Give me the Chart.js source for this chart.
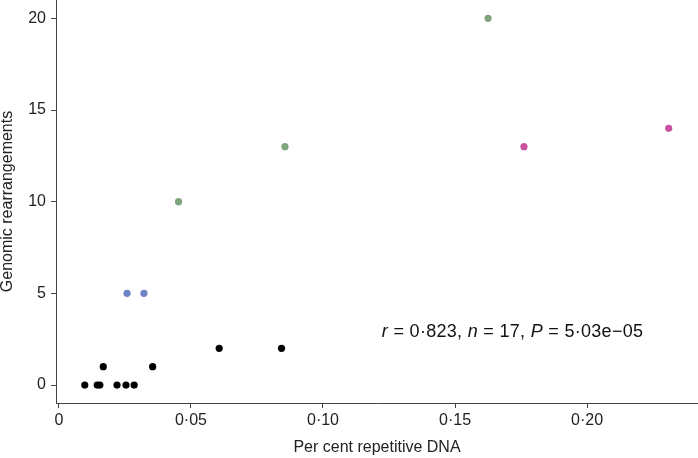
<!DOCTYPE html>
<html>
<head>
<meta charset="utf-8">
<script src="https://cdn.jsdelivr.net/npm/chart.js@4/dist/chart.umd.min.js"></script>
<style>
  html, body { margin: 0; padding: 0; background: #fff; }
  #wrap { width: 698px; height: 458px; }
</style>
</head>
<body>
<div id="wrap"><canvas id="myChart"></canvas></div>
<script>
// values
const blackX = [0.0098, 0.0145, 0.0155, 0.0168, 0.0220, 0.0254, 0.0285, 0.0355, 0.0607, 0.0843];
const blackY = [0, 0, 0, 1, 0, 0, 0, 1, 2, 2];
const blueX = [0.0258, 0.0322];
const blueY = [5, 5];
const greenX = [0.0453, 0.0856, 0.1625];
const greenY = [10, 13, 20];
const pinkX = [0.1761, 0.2309];
const pinkY = [13, 14];

const xTicks = [0, 0.05, 0.10, 0.15, 0.20];
const yTicks = [0, 5, 10, 15, 20];
const statsText = [
  { t: 'r', italic: true }, { t: ' = 0·823, ' },
  { t: 'n', italic: true }, { t: ' = 17, ' },
  { t: 'P', italic: true }, { t: ' = 5·03e\u221205' }
];
const statsAt = { x: 0.1718, y: 2.9 };

const FONT = '"Liberation Sans", Arial, Helvetica, sans-serif';
const AXIS = '#444';

const toPoints = (xs, ys) => xs.map((x, i) => ({ x: x, y: ys[i] }));

const makeSet = (xs, ys, color) => ({
  data: toPoints(xs, ys),
  backgroundColor: color,
  borderColor: color,
  borderWidth: 0,
  pointRadius: 3.6,
  pointHoverRadius: 3.6
});

const statsPlugin = {
  id: 'stats',
  afterDatasetsDraw(chart) {
    const ctx = chart.ctx;
    const px = chart.scales.x.getPixelForValue(statsAt.x);
    const py = chart.scales.y.getPixelForValue(statsAt.y);
    ctx.save();
    ctx.fillStyle = '#111';
    ctx.textBaseline = 'middle';
    ctx.letterSpacing = '0.3px';
    const fontOf = s => (s.italic ? 'italic ' : '') + '18px ' + FONT;
    let total = 0;
    statsText.forEach(s => {
      ctx.font = fontOf(s);
      total += ctx.measureText(s.t).width;
    });
    let cx = px - total / 2;
    statsText.forEach(s => {
      ctx.font = fontOf(s);
      ctx.fillText(s.t, cx, py);
      cx += ctx.measureText(s.t).width;
    });
    ctx.restore();
  }
};

new Chart(document.getElementById('myChart'), {
  type: 'scatter',
  data: {
    datasets: [
      makeSet(blackX, blackY, '#000000'),
      makeSet(blueX, blueY, '#6e82c6'),
      makeSet(greenX, greenY, '#7ea57e'),
      makeSet(pinkX, pinkY, '#c8529e')
    ]
  },
  options: {
    responsive: true,
    maintainAspectRatio: false,
    animation: false,
    layout: { padding: 0, autoPadding: false },
    plugins: {
      legend: { display: false },
      tooltip: { enabled: false }
    },
    scales: {
      x: {
        type: 'linear',
        min: -0.0011,
        max: 0.242,
        afterBuildTicks: s => { s.ticks = xTicks.map(v => ({ value: v })); },
        afterFit: s => { s.height = 55; s.paddingLeft = 0; s.paddingRight = 0; },
        border: { display: true, color: AXIS, width: 1 },
        grid: { display: true, drawOnChartArea: false, drawTicks: true, tickLength: 5, tickColor: AXIS },
        ticks: {
          color: '#222',
          padding: 3,
          maxRotation: 0,
          font: { family: FONT, size: 16 },
          callback: v => v === 0 ? '0' : v.toFixed(2).replace('.', '·')
        },
        title: {
          display: true,
          text: 'Per cent repetitive DNA',
          color: '#222',
          font: { family: FONT, size: 16 },
          padding: { top: 0, bottom: 1 }
        }
      },
      y: {
        type: 'linear',
        min: -0.98,
        max: 21,
        afterBuildTicks: s => { s.ticks = yTicks.map(v => ({ value: v })); },
        afterFit: s => { s.width = 56; s.paddingTop = 0; s.paddingBottom = 0; },
        border: { display: true, color: AXIS, width: 1 },
        grid: { display: true, drawOnChartArea: false, drawTicks: true, tickLength: 5, tickColor: AXIS },
        ticks: {
          color: '#222',
          padding: 5,
          font: { family: FONT, size: 16 }
        },
        title: {
          display: true,
          text: 'Genomic rearrangements',
          color: '#222',
          font: { family: FONT, size: 16 },
          padding: { top: -2, bottom: 0 }
        }
      }
    }
  },
  plugins: [statsPlugin]
});
</script>
</body>
</html>
